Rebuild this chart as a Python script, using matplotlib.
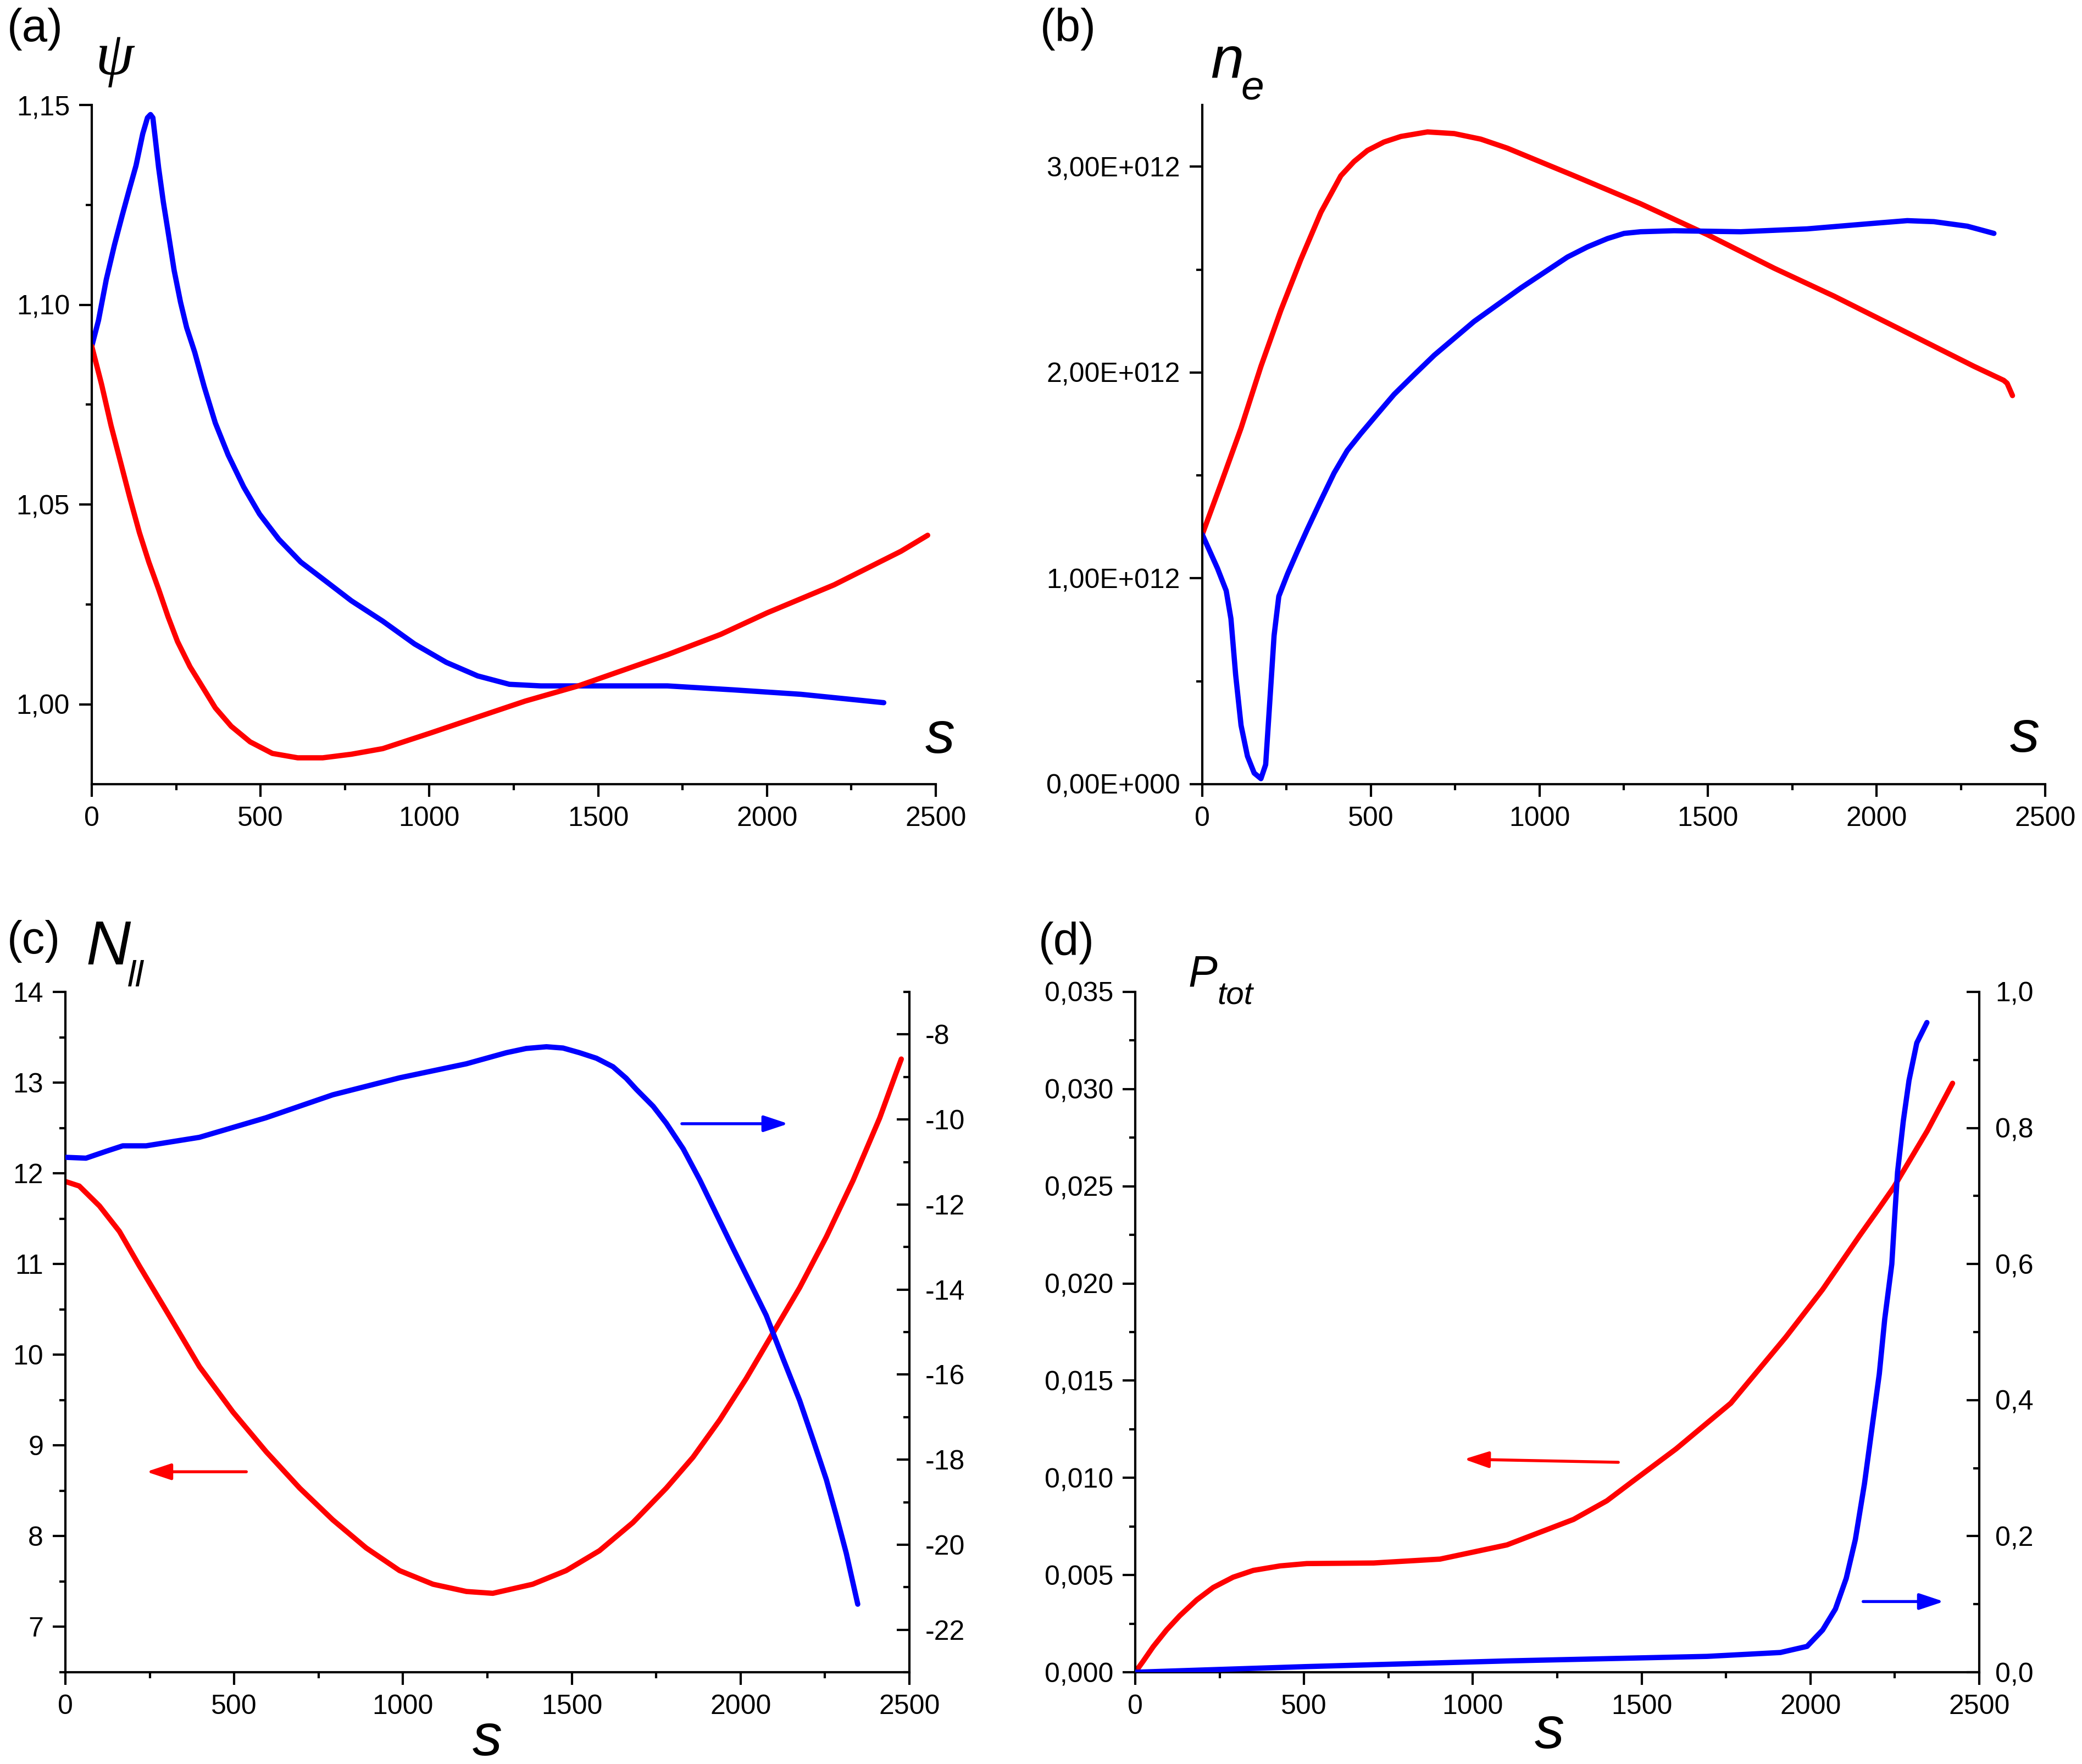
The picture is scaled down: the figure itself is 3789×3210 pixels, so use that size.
import numpy as np
import matplotlib
matplotlib.use("Agg")
import matplotlib.pyplot as plt
from matplotlib.ticker import MultipleLocator, FuncFormatter

plt.rcParams['font.family'] = ['Liberation Sans', 'DejaVu Sans']
plt.rcParams['axes.unicode_minus'] = False

# ---- data ----
# (a) psi(s)
a_blue_s = [0, 20, 43, 67, 90, 112, 131, 151, 165, 174, 181, 188, 198, 212, 226, 244, 263, 281,
            305, 333, 366, 404, 450, 497, 554, 619, 698, 769, 862, 956, 1050, 1143, 1237, 1330,
            1441, 1507, 1705, 1902, 2100, 2346]
a_blue_v = [1.0896, 1.0961, 1.1063, 1.1149, 1.1223, 1.1291, 1.1348, 1.1428, 1.1468, 1.1476,
            1.1468, 1.1417, 1.1343, 1.1257, 1.1183, 1.1086, 1.1006, 1.0943, 1.0881, 1.0795,
            1.0704, 1.0624, 1.0544, 1.0476, 1.0413, 1.0356, 1.0305, 1.0259, 1.0208, 1.0151,
            1.0105, 1.0071, 1.0050, 1.0046, 1.0046, 1.0046, 1.0046, 1.0036, 1.0025, 1.0004]
a_red_s = [0, 29, 57, 85, 113, 141, 169, 198, 226, 254, 291, 329, 366, 413, 469, 535, 610, 684,
           769, 862, 1003, 1143, 1284, 1441, 1705, 1863, 2001, 2199, 2397, 2476]
a_red_v = [1.0896, 1.0801, 1.0698, 1.0607, 1.0516, 1.0430, 1.0356, 1.0288, 1.0219, 1.0157,
           1.0094, 1.0042, 0.9991, 0.9945, 0.9906, 0.9877, 0.9866, 0.9866, 0.9875, 0.9889,
           0.9928, 0.9968, 1.0008, 1.0046, 1.0124, 1.0175, 1.0229, 1.0299, 1.0383, 1.0423]

# (b) n_e(s), units of 1e12
b_red_s = [0, 55, 115, 174, 233, 292, 352, 381, 411, 450, 490, 539, 589, 668, 747, 826, 905,
           1103, 1300, 1498, 1696, 1874, 2091, 2289, 2377, 2387, 2403]
b_red_v = [1.213, 1.458, 1.730, 2.030, 2.302, 2.548, 2.779, 2.866, 2.956, 3.025, 3.079, 3.120,
           3.147, 3.169, 3.161, 3.134, 3.090, 2.956, 2.820, 2.670, 2.507, 2.371, 2.193, 2.030,
           1.962, 1.948, 1.888]
b_blue_s = [0, 45, 71, 85, 99, 115, 134, 154, 174, 188, 200, 213, 227, 253, 282, 312, 351, 391,
            430, 470, 519, 569, 628, 688, 806, 945, 1083, 1142, 1202, 1251, 1300, 1399, 1597,
            1794, 1992, 2091, 2170, 2269, 2348]
b_blue_v = [1.213, 1.049, 0.940, 0.804, 0.531, 0.286, 0.136, 0.054, 0.027, 0.095, 0.395, 0.722,
            0.913, 1.022, 1.131, 1.240, 1.376, 1.512, 1.621, 1.703, 1.798, 1.894, 1.989, 2.084,
            2.248, 2.411, 2.561, 2.610, 2.651, 2.676, 2.684, 2.689, 2.684, 2.698, 2.725, 2.738,
            2.733, 2.711, 2.676]

# (c) N_par(s): red on left axis, blue on right axis
c_red_s = [0, 41, 101, 160, 219, 298, 397, 496, 595, 694, 792, 891, 990, 1089, 1188, 1266, 1384,
           1483, 1582, 1681, 1780, 1859, 1938, 2017, 2096, 2175, 2254, 2333, 2412, 2461, 2476]
c_red_v = [11.91, 11.86, 11.64, 11.36, 10.98, 10.49, 9.87, 9.37, 8.93, 8.53, 8.18, 7.87, 7.62,
           7.47, 7.39, 7.37, 7.47, 7.62, 7.84, 8.15, 8.53, 8.87, 9.28, 9.74, 10.24, 10.74, 11.30,
           11.92, 12.61, 13.11, 13.26]
c_blue_s = [0, 61, 120, 170, 239, 397, 594, 792, 990, 1188, 1306, 1365, 1425, 1474, 1523, 1573,
            1622, 1661, 1691, 1741, 1780, 1830, 1879, 1928, 1977, 2027, 2076, 2125, 2175, 2215,
            2254, 2284, 2313, 2347]
c_blue_v = [-10.89, -10.91, -10.75, -10.62, -10.62, -10.42, -9.96, -9.42, -9.02, -8.69, -8.43,
            -8.33, -8.29, -8.32, -8.43, -8.56, -8.76, -9.03, -9.29, -9.69, -10.09, -10.69,
            -11.42, -12.22, -13.02, -13.82, -14.61, -15.61, -16.61, -17.54, -18.47, -19.33,
            -20.20, -21.40]

# (d) P_tot(s): red on left axis, blue on right axis
d_red_s = [0, 24, 53, 93, 132, 182, 231, 290, 350, 429, 508, 706, 903, 1101, 1298, 1397, 1471,
           1602, 1764, 1927, 2036, 2144, 2198, 2247, 2346, 2421]
d_red_v = [0, 0.00058, 0.00131, 0.00218, 0.00291, 0.00372, 0.00436, 0.00489, 0.00524, 0.00547,
           0.00559, 0.00562, 0.00582, 0.00655, 0.00786, 0.00882, 0.00979, 0.01149, 0.01384,
           0.01724, 0.01969, 0.02242, 0.02374, 0.02496, 0.02785, 0.03030]
d_blue_s = [0, 508, 1101, 1694, 1911, 1990, 2036, 2074, 2106, 2133, 2160, 2182, 2204, 2220,
            2241, 2251, 2258, 2275, 2292, 2315, 2345]
d_blue_v = [0, 0.0083, 0.0166, 0.0233, 0.029, 0.038, 0.062, 0.093, 0.138, 0.195, 0.277, 0.358,
            0.4386, 0.519, 0.600, 0.681, 0.735, 0.81, 0.87, 0.925, 0.955]

W, H = 3789, 3210
fig = plt.figure(figsize=(W / 300, H / 300), dpi=300)

def px_axes(left, top, width, height):
    return fig.add_axes([left / W, 1 - (top + height) / H, width / W, height / H])

def comma(fmt):
    return FuncFormatter(lambda v, p: (fmt % v).replace('.', ','))

def sci_comma(v, p):
    if abs(v) < 1e-3:
        return '0,00E+000'
    e = int(np.floor(np.log10(abs(v))))
    return ('%.2f' % (v / 10 ** e)).replace('.', ',') + 'E+%03d' % e

def style(ax):
    for side in ['top', 'right']:
        ax.spines[side].set_visible(False)
    for sp in ax.spines.values():
        sp.set_linewidth(1.0)
    ax.tick_params(which='both', direction='out', width=1.0, labelsize=12, pad=4)
    ax.tick_params(which='major', length=5.6)
    ax.tick_params(which='minor', length=2.7)
    ax.set_xlim(0, 2500)
    ax.xaxis.set_major_locator(MultipleLocator(500))
    ax.xaxis.set_minor_locator(MultipleLocator(250))
    ax.set_facecolor('none')

def style_right(ax):
    for side in ['top', 'left', 'bottom']:
        ax.spines[side].set_visible(False)
    ax.spines['right'].set_linewidth(1.0)
    ax.tick_params(which='both', direction='in', width=1.0, labelsize=12, pad=7)
    ax.tick_params(which='major', length=5.6)
    ax.tick_params(which='minor', length=2.7)

lw = 2.3
red = '#ff0000'
blue = '#0000ff'
arrow = dict(arrowstyle='-|>,head_length=0.45,head_width=0.15', lw=1.3,
             mutation_scale=20, shrinkA=0, shrinkB=0)

# (a)
ax = px_axes(167, 191, 1536, 1236)
style(ax)
ax.plot(a_blue_s, a_blue_v, color=blue, lw=lw, solid_capstyle='round')
ax.plot(a_red_s, a_red_v, color=red, lw=lw, solid_capstyle='round')
ax.set_ylim(0.98, 1.15)
ax.yaxis.set_major_locator(MultipleLocator(0.05))
ax.yaxis.set_minor_locator(MultipleLocator(0.025))
ax.yaxis.set_major_formatter(comma('%.2f'))

# (b)
ax = px_axes(2188, 191, 1534, 1236)
style(ax)
ax.plot(b_red_s, np.array(b_red_v) * 1e12, color=red, lw=lw, solid_capstyle='round')
ax.plot(b_blue_s, np.array(b_blue_v) * 1e12, color=blue, lw=lw, solid_capstyle='round')
ax.set_ylim(0, 3.3e12)
ax.yaxis.set_major_locator(MultipleLocator(1e12))
ax.yaxis.set_minor_locator(MultipleLocator(0.5e12))
ax.yaxis.set_major_formatter(FuncFormatter(sci_comma))

# (c)
ax = px_axes(119, 1805, 1536, 1238)
style(ax)
ax.plot(c_red_s, c_red_v, color=red, lw=lw, solid_capstyle='round')
ax.set_ylim(6.5, 14)
ax.yaxis.set_major_locator(MultipleLocator(1))
ax.yaxis.set_minor_locator(MultipleLocator(0.5))
ax.annotate('', xy=(240, 8.71), xytext=(536, 8.71), arrowprops=dict(arrow, color=red))
ax2 = ax.twinx()
style_right(ax2)
ax2.plot(c_blue_s, c_blue_v, color=blue, lw=lw, solid_capstyle='round')
ax2.set_ylim(-23, -7)
ax2.yaxis.set_major_locator(MultipleLocator(2))
ax2.yaxis.set_minor_locator(MultipleLocator(1))
ax2.annotate('', xy=(2141, -10.1), xytext=(1826, -10.1), arrowprops=dict(arrow, color=blue))

# (d)
ax = px_axes(2066, 1805, 1536, 1238)
style(ax)
ax.plot(d_red_s, d_red_v, color=red, lw=lw, solid_capstyle='round')
ax.set_ylim(0, 0.035)
ax.yaxis.set_major_locator(MultipleLocator(0.005))
ax.yaxis.set_minor_locator(MultipleLocator(0.0025))
ax.yaxis.set_major_formatter(comma('%.3f'))
ax.annotate('', xy=(974, 0.01096), xytext=(1431, 0.01080), arrowprops=dict(arrow, color=red))
ax2 = ax.twinx()
style_right(ax2)
ax2.plot(d_blue_s, d_blue_v, color=blue, lw=lw, solid_capstyle='round')
ax2.set_ylim(0, 1.0)
ax2.yaxis.set_major_locator(MultipleLocator(0.2))
ax2.yaxis.set_minor_locator(MultipleLocator(0.1))
ax2.yaxis.set_major_formatter(comma('%.1f'))
ax2.annotate('', xy=(2395, 0.1039), xytext=(2156, 0.1039), arrowprops=dict(arrow, color=blue))

# ---- text labels (pixel positions) ----
def ftext(x, y, s, **kw):
    fig.text(x / W, 1 - y / H, s, **kw)

for x, y, lab in [(13, 75, '(a)'), (1893, 75, '(b)'), (13, 1735, '(c)'), (1890, 1738, '(d)')]:
    ftext(x, y, lab, fontsize=20, va='baseline', ha='left')

ftext(208, 108, '\u03c8', fontsize=27, family='Liberation Serif', style='italic',
      ha='center', va='center')
ftext(2203, 143, 'n', fontsize=26, style='italic', va='baseline')
ftext(2258, 182, 'e', fontsize=18, style='italic', va='baseline')
ftext(157, 1755, 'N', fontsize=27, style='italic', va='baseline')
ftext(232, 1795, 'll', fontsize=16, style='italic', va='baseline')
ftext(2163, 1794, 'P', fontsize=19, style='italic', va='baseline')
ftext(2215, 1827, 'tot', fontsize=14, style='italic', va='baseline')

for x, y in [(1711, 1342), (3685, 1340), (887, 3166), (2820, 3153)]:
    ftext(x, y, 's', fontsize=26, style='italic', ha='center', va='center')

fig.savefig('out.png', dpi=300)
